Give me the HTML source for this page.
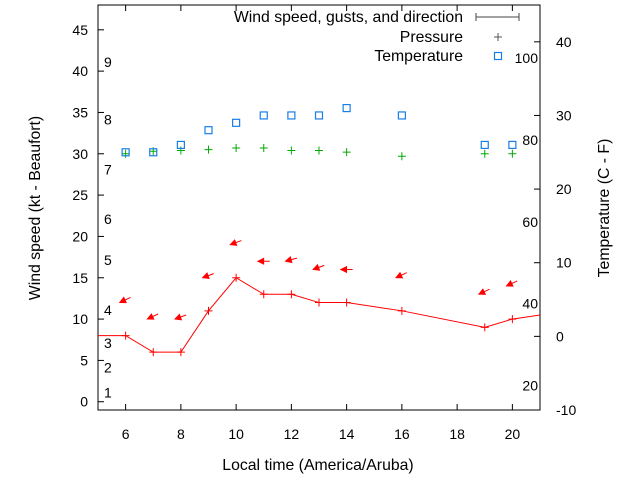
<!DOCTYPE html>
<html><head><meta charset="utf-8"><style>
body{margin:0;background:#fff}
svg{display:block;font-family:"Liberation Sans",sans-serif;font-size:14px}
.big{font-size:15.8px}
</style></head><body>
<svg width="640" height="480">
<g id="axes"></g>
<g id="marks"></g>
</svg>
<script>
const hours=[6,7,8,9,10,11,12,13,14,16,19,20];
const wind=[8,6,6,11,15,13,13,12,12,11,9,10];
const gusts=[12,10,10,15,19,17,17,16,16,15,13,14];
const dirs=[65,65,70,70,70,90,75,70,90,65,65,65];
const pressure=[30,30.3,30.4,30.5,30.7,30.7,30.4,30.4,30.2,29.7,30,30];
const tempC=[25,25,26,28,29,30,30,30,31,30,26,26];
const windStart=8, windEnd=10.5;
const xTicks=[6,8,10,12,14,16,18,20];
const yTicks=[0,5,10,15,20,25,30,35,40,45];
const y2Ticks=[-10,0,10,20,30,40];
const beaufort=[[1,1],[2,4],[3,7],[4,11],[5,17],[6,22],[7,28],[8,34],[9,41]];
const fahr=[20,40,60,80,100];

const L=98,R=540,T=5,B=410;
const xs=h=>L+(h-5)/(21-5)*(R-L);
const ys=v=>B-(v+1)/(48+1)*(B-T);
const y2=v=>B-(v+10)/(45+10)*(B-T);
const NS='http://www.w3.org/2000/svg';
const ax=document.getElementById('axes'),mk=document.getElementById('marks');
function el(p,t,a,txt){const e=document.createElementNS(NS,t);for(const k in a)e.setAttribute(k,a[k]);if(txt!==undefined)e.textContent=txt;p.appendChild(e);return e;}

let e=el(ax,'rect',{x:L,y:T,width:R-L,height:B-T,fill:'none',stroke:'#000','stroke-width':1});


xTicks.forEach(t=>{const x=xs(t);
 el(ax,'line',{x1:x,y1:B,x2:x,y2:B-6,stroke:'#000'});el(ax,'line',{x1:x,y1:T,x2:x,y2:T+6,stroke:'#000'});
 let l=el(ax,'text',{x:x,y:B+29,'text-anchor':'middle'},t);
 
 });
yTicks.forEach(t=>{const y=ys(t);
 el(ax,'line',{x1:L,y1:y,x2:L+6,y2:y,stroke:'#000'});
 let l=el(ax,'text',{x:L-10,y:y+5,'text-anchor':'end'},t);
 
 });
y2Ticks.forEach(t=>{const y=y2(t);
 el(ax,'line',{x1:R,y1:y,x2:R-6,y2:y,stroke:'#000'});
 let l=el(ax,'text',{x:R+16,y:y+5},t);
 
 });
beaufort.forEach(([n,v])=>{let l=el(ax,'text',{x:104,y:ys(v)+4},n);
 
 });
fahr.forEach(f=>{let l=el(ax,'text',{x:538,y:y2((f-32)*5/9)+5,'text-anchor':'end'},f);
 
 });
e=el(ax,'text',{x:318,y:470,'text-anchor':'middle',class:'big'},'Local time (America/Aruba)');


e=el(ax,'text',{x:0,y:0,'text-anchor':'middle',class:'big',transform:'translate(40,208) rotate(-90)'},'Wind speed (kt - Beaufort)');


e=el(ax,'text',{x:0,y:0,'text-anchor':'middle',class:'big',transform:'translate(609,208) rotate(-90)'},'Temperature (C - F)');



let pts=[[L,ys(windStart)]].concat(hours.map((h,i)=>[xs(h),ys(wind[i])])).concat([[R,ys(windEnd)]]);
e=el(mk,'polyline',{points:pts.map(p=>p.join(',')).join(' '),fill:'none',stroke:'#f00','stroke-width':1});


hours.forEach((h,i)=>{const x=xs(h),y=ys(wind[i]);
 let g=el(mk,'path',{d:`M${x-4},${y}h8M${x},${y-4}v8`,stroke:'#f00'});
 
 
 const gy=ys(gusts[i]),a=(dirs[i])*Math.PI/180;
 const dx=Math.sin(a),dy=-Math.cos(a);
 const hx=x-6,hy=gy,tx=hx+dx*12,ty=hy+dy*12;
 const px=-dy,py=dx;
 let ar=el(mk,'line',{x1:hx,y1:hy,x2:tx,y2:ty,stroke:'#f00'});
 
 
 let hd=el(mk,'polygon',{points:`${hx},${hy} ${hx+dx*6+px*3},${hy+dy*6+py*3} ${hx+dx*6-px*3},${hy+dy*6-py*3}`,fill:'#f00',stroke:'#f00','stroke-width':0.8});
 
 
 const py2=ys(pressure[i]);
 let p=el(mk,'path',{d:`M${x-4},${py2}h8M${x},${py2-4}v8`,stroke:'#0a0'});
 
 
 const ty2=y2(tempC[i]);
 let s=el(mk,'rect',{x:x-3.5,y:ty2-3.5,width:7,height:7,fill:'none',stroke:'#1a7ee8','stroke-width':1.2});
 
 
});
const lg=el(ax,'g',{});


[['Wind speed, gusts, and direction',22],['Pressure',42],['Temperature',61]].forEach(([t,y])=>{
 let l=el(lg,'text',{x:463,y:y,'text-anchor':'end',class:'big'},t);
 
 });
el(lg,'path',{d:'M476,17h43M476,13v8M519,13v8',stroke:'#444'});
el(lg,'path',{d:'M494,37h8M498,33v8',stroke:'#555'});
el(lg,'rect',{x:494.5,y:52.5,width:7,height:7,fill:'none',stroke:'#1a7ee8','stroke-width':1.2});
</script>
</body></html>
